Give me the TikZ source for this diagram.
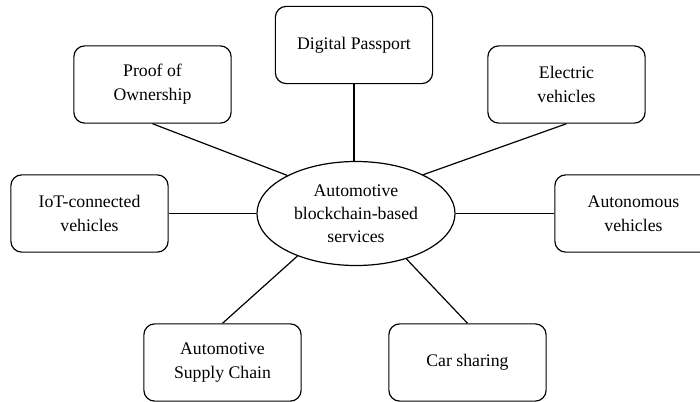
\documentclass[tikz,border=0pt]{standalone}
\usepackage{fontspec}
\setmainfont{Liberation Serif}
\usepackage{tikz}
\usetikzlibrary{shapes}
\tikzset{
  servbox/.style={draw, line width=0.85pt, rounded corners=0.27cm, minimum width=3.93cm, minimum height=1.93cm, align=center, font=\fontsize{12.6}{17}\selectfont},
  hubnode/.style={draw, line width=0.85pt, ellipse, inner sep=0pt, minimum width=4.95cm, minimum height=2.6cm, align=center, font=\fontsize{12.6}{16.5}\selectfont},
  spoke/.style={line width=0.85pt}
}
\newcommand{\servbox}[4]{\node[servbox] (#1) at ( #2 , #3 ) {#4};}

\begin{document}
\begin{tikzpicture}[x=0.025cm, y=-0.025cm]
\useasboundingbox (0,0) rectangle (700,402);
\clip (0,0) rectangle (700,402);
% centre
\node[hubnode] (hub) at (356,213.5) {Automotive\\blockchain-based\\services};
% top row of boxes
\servbox{passport}{354}{45}{Digital Passport}
\servbox{ownership}{152.5}{84.5}{Proof of\\Ownership}
\servbox{electric}{566.5}{84.5}{Electric\\vehicles}
% middle row of boxes
\servbox{iot}{89.5}{213.5}{IoT-connected\\vehicles}
\servbox{autonomous}{633.5}{213.5}{Autonomous\\vehicles}
% bottom row of boxes
\servbox{supply}{222.5}{362.5}{Automotive\\Supply Chain}
\servbox{sharing}{467.5}{362.5}{Car sharing}
% spokes
\draw[spoke] (ownership.south) -- (hub.151);
\draw[spoke] (passport.south) -- (hub.north -| passport.south);
\draw[spoke] (electric.south) -- (hub.30);
\draw[spoke] (iot.east) -- (hub.west);
\draw[spoke] (autonomous.west) -- (hub.east);
\draw[spoke] (supply.north) -- (hub.216);
\draw[spoke] (sharing.north) -- (hub.318);
\end{tikzpicture}
\end{document}
